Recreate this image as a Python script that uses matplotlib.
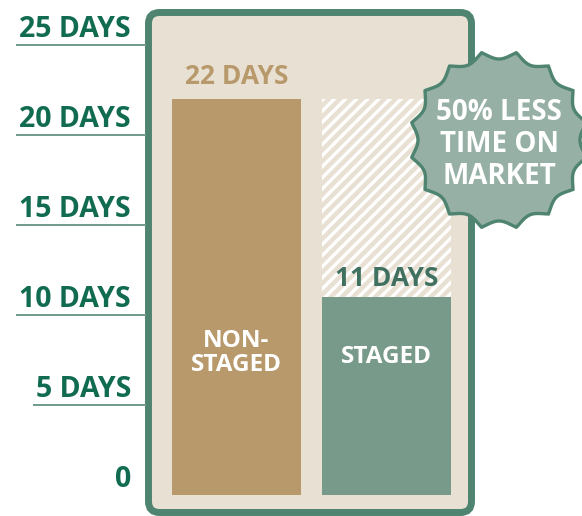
import numpy as np
import matplotlib
matplotlib.use('Agg')
import matplotlib.pyplot as plt
from matplotlib.patches import FancyBboxPatch, Polygon
from matplotlib import transforms

# data
categories = ['NON-\nSTAGED', 'STAGED']
days = [22, 11]
value_labels = ['22 DAYS', '11 DAYS']
tick_values = [0, 5, 10, 15, 20, 25]
tick_labels = ['0', '5 DAYS', '10 DAYS', '15 DAYS', '20 DAYS', '25 DAYS']
badge_lines = ['50% LESS', 'TIME ON', 'MARKET']

# colours
TICK_GREEN = '#106b50'
LINE_GREEN = '#6f9a88'
BORDER = '#4e8470'
PANEL = '#e8e1d3'
TAN = '#b8996c'
SAGE = '#789a8a'
BADGE = '#97b0a5'
DARK_SAGE = '#3f7060'

plt.rcParams['font.family'] = ['Open Sans', 'DejaVu Sans']
plt.rcParams['hatch.linewidth'] = 2.4

W, H = 582, 516
fig = plt.figure(figsize=(W / 100, H / 100), dpi=100)
ax = fig.add_axes([0, 0, 1, 1])
ax.set_axis_off()

# 18 px per day, zero at y=495 px from the top; 150 px between bar centres
ax.set_ylim(-21 / 18, (H - 21) / 18)
ax.set_xlim(-236.5 / 150, (W - 236.5) / 150)

# pixel transform (origin bottom left)
px = transforms.Affine2D().scale(1 / 100) + fig.dpi_scale_trans

# rounded panel
panel = FancyBboxPatch((148.5, 3.5), 323, 500, boxstyle='round,pad=0,rounding_size=11',
                       facecolor=PANEL, edgecolor=BORDER, linewidth=5, transform=px, zorder=1)
ax.add_patch(panel)

x = np.arange(len(categories))
bw = 0.86
ax.bar(x, days, width=bw, color=[TAN, SAGE], zorder=3)
# hatched gap between staged and non-staged
ax.bar(x[1], days[0] - days[1], bottom=days[1], width=bw, facecolor=PANEL,
       edgecolor='white', linewidth=0, hatch='///', zorder=2)

# value labels
ax.annotate(value_labels[0], (x[0], days[0]), xytext=(0, 11), textcoords='offset points',
            ha='center', va='baseline', fontsize=19, fontweight='bold', color=TAN, zorder=5)
ax.annotate(value_labels[1], (x[1], days[1]), xytext=(0, 8), textcoords='offset points',
            ha='center', va='baseline', fontsize=19, fontweight='bold', color=DARK_SAGE, zorder=5)

# category labels inside bars
ax.text(x[0], (495 - 353) / 18, categories[0], ha='center', va='center', fontsize=17.5,
        fontweight='bold', color='white', linespacing=1.05, zorder=5)
ax.text(x[1], (495 - 357) / 18, categories[1], ha='center', va='center', fontsize=17.5,
        fontweight='bold', color='white', zorder=5)

# y tick labels with underlines
x_right = (131 - 236.5) / 150
x_panel = (146 - 236.5) / 150
tick_texts = []
for v, lab in zip(tick_values, tick_labels):
    t = ax.text(x_right, v + 8 / 18, lab, ha='right', va='baseline',
                fontsize=20.5, fontweight='bold', color=TICK_GREEN, zorder=5)
    tick_texts.append((v, t))

fig.canvas.draw()
inv = ax.transData.inverted()
for v, t in tick_texts:
    if v == 0:
        continue
    bb = t.get_window_extent()
    x0 = inv.transform((bb.x0 - 3, 0))[0]
    ax.hlines(v, x0, x_panel, color=LINE_GREEN, linewidth=1.4, zorder=4)

# starburst badge
cx, cy = 499, H - 140
n = 16
theta = np.linspace(0, 2 * np.pi, 1600)
r = 81 + 8 * (1 - np.abs(np.sin(n / 2 * (theta - np.pi / n))))
pts = np.column_stack([cx + r * np.cos(theta), cy + r * np.sin(theta)])
badge = Polygon(pts, closed=True, facecolor=BADGE, edgecolor=BORDER, linewidth=2.4,
                transform=px, zorder=6)
ax.add_patch(badge)
for i, line in enumerate(badge_lines):
    ax.text(cx, cy - 4 + 32 - 32 * i, line, transform=px, ha='center', va='center',
            fontsize=20, fontweight='bold', color='white', zorder=7)

fig.savefig('out.png', dpi=100)
